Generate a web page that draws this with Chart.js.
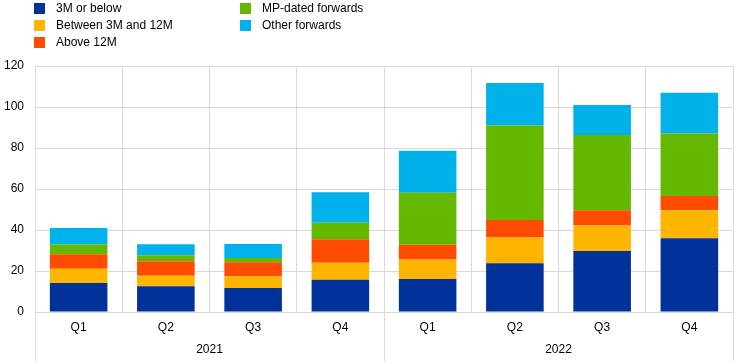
<!DOCTYPE html>
<html>
<head>
<meta charset="utf-8">
<script src="https://cdn.jsdelivr.net/npm/chart.js@4.4.1/dist/chart.umd.min.js"></script>
<style>
  html, body { margin: 0; padding: 0; background: #fff; }
  #wrap { position: relative; width: 744px; height: 361px; }
</style>
</head>
<body>
<div id="wrap"><canvas id="chart"></canvas></div>
<script>
const quarters = ["Q1", "Q2", "Q3", "Q4", "Q1", "Q2", "Q3", "Q4"];
const years = ["2021", "2022"];
const yTicks = [0, 20, 40, 60, 80, 100, 120];

const below3M = [14.1, 12.6, 11.7, 15.7, 16.1, 23.8, 29.7, 36.0];
const between3M12M = [7.0, 5.1, 5.7, 8.3, 9.5, 12.5, 12.5, 13.6];
const above12M = [7.1, 7.1, 6.9, 11.5, 7.2, 8.6, 7.4, 7.0];
const mpDated = [4.7, 2.9, 2.0, 8.0, 25.4, 46.1, 36.7, 30.5];
const otherFwd = [8.1, 5.4, 6.9, 14.9, 20.4, 20.7, 14.7, 19.8];

const FONT = "'Liberation Sans', Arial, sans-serif";
const GRID = "#d9d9d9";

// legend laid out column-wise like the original
const legendSlots = [
    { x: 34, y: 8 }, { x: 34, y: 25 }, { x: 34, y: 42 },
    { x: 240, y: 8 }, { x: 240, y: 25 }
];

const legendPlugin = {
    id: "colLegend",
    afterDraw(chart) {
        const c = chart.ctx;
        c.save();
        c.font = "12px " + FONT;
        c.textBaseline = "middle";
        c.textAlign = "left";
        chart.data.datasets.forEach((ds, i) => {
            const s = legendSlots[i];
            c.fillStyle = ds.backgroundColor;
            c.fillRect(s.x, s.y - 5, 11, 11);
            c.fillStyle = "#000";
            c.fillText(ds.label, s.x + 22, s.y + 1);
        });
        c.restore();
    }
};

// year labels and separators under the quarter labels
const yearPlugin = {
    id: "yearAxis",
    afterDraw(chart) {
        const c = chart.ctx;
        const xs = chart.scales.x;
        const area = chart.chartArea;
        const step = xs.getPixelForValue(1) - xs.getPixelForValue(0);
        c.save();
        c.strokeStyle = GRID;
        c.lineWidth = 1;
        [0, 4, 8].forEach(i => {
            const px = Math.round(xs.getPixelForValue(i) - step / 2) + 0.5;
            c.beginPath();
            c.moveTo(px, area.bottom);
            c.lineTo(px, chart.height);
            c.stroke();
        });
        c.font = "12px " + FONT;
        c.fillStyle = "#000";
        c.textAlign = "center";
        c.textBaseline = "middle";
        years.forEach((y, k) => {
            const mid = (xs.getPixelForValue(k * 4) + xs.getPixelForValue(k * 4 + 3)) / 2;
            c.fillText(y, mid, 350);
        });
        c.restore();
    }
};

const colors = ["#003299", "#FFB400", "#FF4B00", "#65B800", "#00B1EA"];
const names = ["3M or below", "Between 3M and 12M", "Above 12M", "MP-dated forwards", "Other forwards"];
const series = [below3M, between3M12M, above12M, mpDated, otherFwd];

new Chart(document.getElementById("chart"), {
    type: "bar",
    data: {
        labels: quarters,
        datasets: series.map((d, i) => ({
            label: names[i],
            data: d,
            backgroundColor: colors[i],
            borderWidth: 0,
            categoryPercentage: 1,
            barPercentage: 0.66
        }))
    },
    options: {
        responsive: true,
        maintainAspectRatio: false,
        animation: false,
        layout: { padding: { top: 66, right: 11, left: 0, bottom: 0 } },
        plugins: {
            legend: { display: false },
            tooltip: { enabled: false }
        },
        scales: {
            x: {
                stacked: true,
                grid: { color: GRID, offset: true, drawTicks: false },
                border: { color: GRID },
                ticks: { color: "#000", font: { family: FONT, size: 12 }, padding: 8 },
                afterFit(scale) { scale.height = 49; }
            },
            y: {
                stacked: true,
                min: 0,
                max: 120,
                afterBuildTicks(scale) { scale.ticks = yTicks.map(v => ({ value: v })); },
                grid: { color: GRID, drawTicks: false },
                border: { color: GRID },
                ticks: { color: "#000", font: { family: FONT, size: 12 }, padding: 11 },
                afterFit(scale) { scale.width = 35; }
            }
        }
    },
    plugins: [legendPlugin, yearPlugin]
});
</script>
</body>
</html>
